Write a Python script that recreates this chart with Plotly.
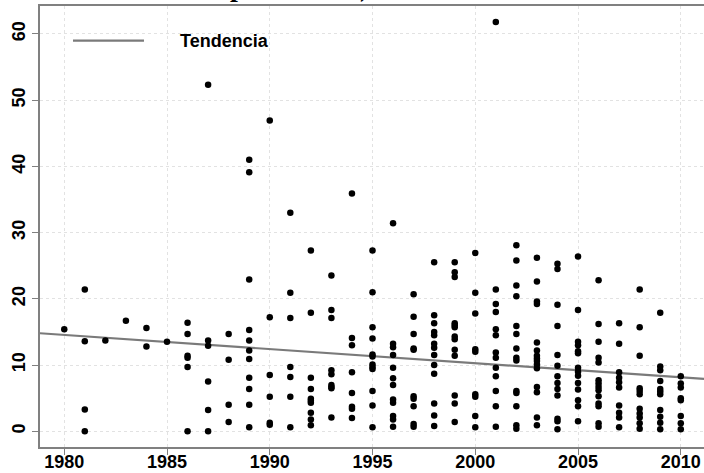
import plotly.graph_objects as go

# Years (x) and the values observed in each year (y)
years = list(range(1980, 2011))
values = [
    [15.4],                                                              # 1980
    [21.4, 13.6, 3.3, 0.0],                                              # 1981
    [13.7],                                                              # 1982
    [16.7],                                                              # 1983
    [15.6, 12.8],                                                        # 1984
    [13.5],                                                              # 1985
    [16.4, 14.7, 11.4, 11.1, 9.7, 0.0],                                  # 1986
    [52.3, 13.7, 12.9, 7.5, 3.2, 0.0],                                   # 1987
    [14.7, 10.8, 4.0, 1.4],                                              # 1988
    [41.0, 39.1, 22.9, 15.3, 13.7, 12.2, 10.9, 8.1, 6.4, 4.0, 0.6],      # 1989
    [46.9, 17.2, 8.5, 5.2, 1.3, 1.0],                                    # 1990
    [33.0, 20.9, 17.1, 9.7, 8.2, 5.2, 0.6],                              # 1991
    [27.3, 17.9, 8.1, 6.4, 4.9, 4.6, 4.3, 2.8, 1.8, 0.9],                # 1992
    [23.5, 18.3, 17.1, 9.2, 8.6, 7.0, 6.7, 6.5, 2.1],                    # 1993
    [35.9, 14.1, 13.0, 8.9, 5.8, 3.7, 3.4, 2.0],                         # 1994
    [27.3, 21.0, 15.7, 14.0, 11.6, 11.3, 10.1, 9.7, 9.4, 6.1, 3.9, 0.6], # 1995
    [31.4, 13.2, 12.7, 11.5, 9.6, 8.0, 7.0, 4.8, 4.3, 2.3, 1.8, 0.7],    # 1996
    [20.7, 17.3, 14.7, 12.5, 12.3, 5.3, 4.9, 3.8, 1.1, 0.7],             # 1997
    [25.5, 17.5, 16.3, 15.0, 14.5, 13.2, 12.6, 11.5, 10.0, 8.7, 4.2, 2.4, 0.8],  # 1998
    [25.5, 24.0, 23.3, 16.3, 16.0, 15.7, 14.3, 13.9, 12.3, 11.4, 5.4, 4.2, 1.4],  # 1999
    [26.9, 20.9, 17.8, 12.4, 12.0, 5.6, 5.2, 2.3, 0.6],                  # 2000
    [61.8, 21.4, 19.2, 18.0, 15.4, 14.5, 11.9, 11.1, 9.6, 8.3, 6.1, 3.8, 0.7],  # 2001
    [28.1, 25.8, 22.0, 20.4, 15.9, 14.7, 12.5, 11.1, 10.7, 6.1, 5.8, 3.8, 0.9, 0.4],  # 2002
    [26.2, 22.6, 19.6, 19.2, 13.4, 12.2, 11.4, 11.0, 10.6, 10.1, 9.5, 6.7, 5.9, 2.1, 0.9],  # 2003
    [25.3, 24.5, 19.1, 15.9, 11.5, 9.9, 8.3, 7.3, 6.4, 5.4, 1.9, 1.5, 0.3],  # 2004
    [26.4, 18.3, 13.5, 13.0, 12.1, 11.8, 9.6, 9.0, 8.4, 7.3, 6.3, 4.7, 3.8, 1.5],  # 2005
    [22.8, 16.2, 13.5, 11.1, 10.4, 7.7, 7.2, 6.7, 6.2, 5.3, 4.2, 3.8, 1.2, 0.7],  # 2006
    [16.3, 13.2, 8.9, 8.1, 7.4, 6.6, 3.9, 2.8, 2.1, 0.6],                # 2007
    [21.4, 15.7, 11.4, 6.5, 6.1, 5.6, 3.4, 2.7, 2.1, 1.2, 0.4],          # 2008
    [17.9, 9.8, 9.2, 7.6, 6.4, 6.0, 5.6, 3.2, 2.2, 1.3, 0.3],            # 2009
    [8.3, 7.2, 6.6, 5.0, 4.7, 2.3, 1.2, 0.3],                            # 2010
]

# trend line at the two ends of the x range
x_range = [1978.82, 2011.13]
trend_values = [14.8, 7.9]

x_ticks = [1980, 1985, 1990, 1995, 2000, 2005, 2010]
y_ticks = [0, 10, 20, 30, 40, 50, 60]
y_range = [-2.37, 64.2]

# flatten to point lists
pts_x = [yr for yr, vals in zip(years, values) for _ in vals]
pts_y = [v for vals in values for v in vals]

fig = go.Figure()

fig.add_trace(go.Scatter(
    x=x_range, y=trend_values, mode="lines",
    line=dict(color="#7a7a7a", width=2.2),
    name="Tendencia", showlegend=False, hoverinfo="skip"))

fig.add_trace(go.Scatter(
    x=pts_x, y=pts_y, mode="markers",
    marker=dict(color="black", size=6.5, line=dict(width=0)),
    showlegend=False))

axis_font = dict(family="Liberation Sans", size=18, color="black", weight="bold")

fig.update_xaxes(
    range=x_range, tickvals=x_ticks, tickfont=axis_font, automargin=False,
    showline=True, linecolor="#808080", linewidth=1.5, mirror=True,
    ticks="outside", ticklen=6, tickcolor="#808080", tickwidth=1.2,
    ticklabelstandoff=-8,
    showgrid=True, gridcolor="#e2e2e2", griddash="dot", gridwidth=1,
    zeroline=False)
fig.update_yaxes(
    range=y_range, tickvals=y_ticks, tickfont=axis_font, tickangle=-90,
    automargin=False,
    showline=True, linecolor="#808080", linewidth=1.5,
    ticks="outside", ticklen=6, tickcolor="#808080", tickwidth=1.2,
    showgrid=True, gridcolor="#e2e2e2", griddash="dot", gridwidth=1,
    zeroline=False)

# hand-drawn legend content (top-left)
fig.add_shape(type="line", xref="paper", yref="paper",
              x0=0.0497, x1=0.1566, y0=0.9213, y1=0.9213,
              line=dict(color="#7a7a7a", width=2.2))
fig.add_annotation(text="Tendencia", xref="paper", yref="paper",
                   x=0.2078, y=0.9213, xanchor="left", yanchor="middle",
                   showarrow=False,
                   font=dict(family="Liberation Sans", size=18, color="black", weight="bold"))

# title mostly cut off above the image: only descenders are visible
title_font = dict(family="Liberation Serif", size=28, color="black", weight="bold")
fig.add_annotation(text="p", xref="paper", yref="paper", x=(238 - 40) / 664, y=1,
                   xanchor="center", yanchor="bottom", yshift=2,
                   showarrow=False, font=title_font)
fig.add_annotation(text=")", xref="paper", yref="paper", x=(364 - 40) / 664, y=1,
                   xanchor="center", yanchor="bottom", yshift=2,
                   showarrow=False, font=title_font)

fig.update_layout(
    width=704, height=473,
    margin=dict(l=40, r=0, t=6, b=26, autoexpand=False),
    plot_bgcolor="white", paper_bgcolor="white")

# drop the page's default body margin so the figure sits at the window's corner
fig.write_html("out.html",
               config={"displayModeBar": False},
               post_script="document.body.style.margin='0';"
                           "document.body.style.overflow='hidden';")
